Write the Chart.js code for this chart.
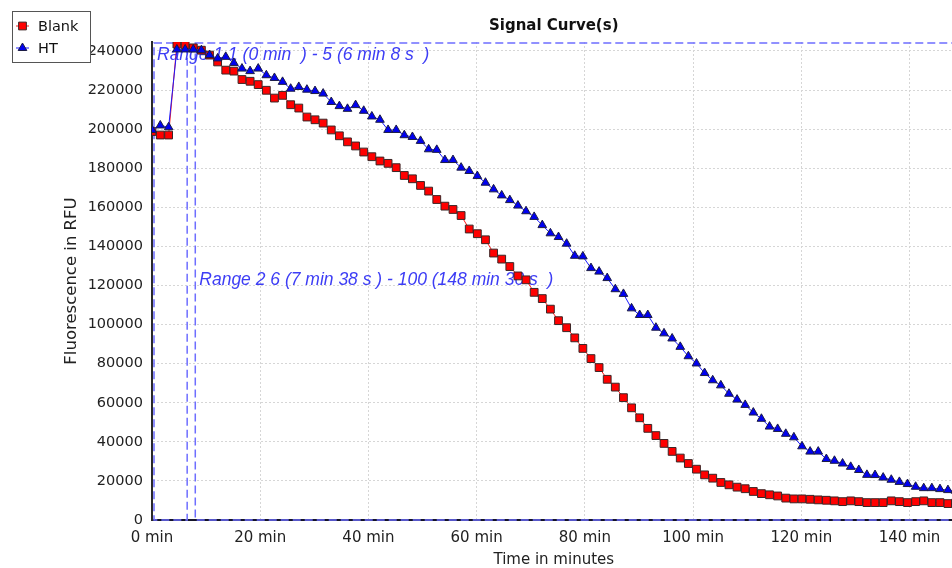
<!DOCTYPE html>
<html>
<head>
<meta charset="utf-8">
<script src="https://cdn.jsdelivr.net/npm/chart.js@4/dist/chart.umd.min.js"></script>
<style>
  html, body { margin: 0; padding: 0; background: #fff; overflow: hidden; }
  #wrap { width: 952px; height: 568px; overflow: hidden; position: relative; }
  canvas { display: block; }
</style>
</head>
<body>
<div id="wrap"><canvas id="chart" width="962" height="568"></canvas></div>
<script>
// time of each read (minutes)
const times = [0, 1.53, 3.07, 4.6, 6.13, 7.63, 9.13, 10.63, 12.13, 13.63,
  15.13, 16.63, 18.13, 19.63, 21.13, 22.63, 24.13, 25.63, 27.13, 28.63,
  30.13, 31.63, 33.13, 34.63, 36.13, 37.63, 39.13, 40.63, 42.13, 43.63,
  45.13, 46.63, 48.13, 49.63, 51.13, 52.63, 54.13, 55.63, 57.13, 58.63,
  60.13, 61.63, 63.13, 64.63, 66.13, 67.63, 69.13, 70.63, 72.13, 73.63,
  75.13, 76.63, 78.13, 79.63, 81.13, 82.63, 84.13, 85.63, 87.13, 88.63,
  90.13, 91.63, 93.13, 94.63, 96.13, 97.63, 99.13, 100.63, 102.13, 103.63,
  105.13, 106.63, 108.13, 109.63, 111.13, 112.63, 114.13, 115.63, 117.13, 118.63,
  120.13, 121.63, 123.13, 124.63, 126.13, 127.63, 129.13, 130.63, 132.13, 133.63,
  135.13, 136.63, 138.13, 139.63, 141.13, 142.63, 144.13, 145.63, 147.1, 148.5];

// Fluorescence in RFU
const blank = [198800, 197000, 197000, 243500, 243000, 241600, 240400, 237900, 234400, 230200,
  229700, 225400, 224500, 222800, 219900, 215900, 217300, 212500, 210800, 206200,
  204800, 203100, 199600, 196600, 193500, 191400, 188300, 185900, 183700, 182500,
  180300, 176300, 174600, 171200, 168300, 164000, 160600, 158900, 155800, 148900,
  146500, 143400, 136600, 133500, 129700, 124900, 122900, 116500, 113300, 107900,
  102000, 98400, 93200, 87800, 82600, 78000, 72000, 68000, 62600, 57400,
  52300, 46900, 43200, 39200, 35100, 31700, 28900, 26000, 23100, 21400,
  19200, 18000, 16800, 16000, 14600, 13500, 12900, 12300, 11200, 10800,
  10800, 10600, 10300, 10100, 9800, 9400, 9800, 9400, 8900, 8900,
  8900, 9800, 9400, 8900, 9400, 9800, 8900, 8900, 8400, 8600];

const ht = [199600, 201900, 201000, 240800, 240800, 240800, 240400, 237900, 236200, 237000,
  233900, 231000, 229700, 231000, 227600, 226200, 224200, 220700, 221600, 220200,
  219500, 218200, 213900, 211800, 210400, 212300, 209400, 206500, 204800, 199600,
  199600, 196900, 196000, 194000, 189700, 189400, 184200, 184200, 180300, 178600,
  176000, 172600, 169200, 166100, 163700, 160900, 158000, 155100, 150900, 146700,
  144800, 141400, 135200, 134900, 128900, 127100, 123800, 118100, 115700, 108300,
  104900, 104900, 98400, 95500, 92900, 88600, 83800, 80100, 75200, 71500,
  68900, 64600, 61600, 58900, 55000, 51800, 47800, 46600, 44100, 42300,
  37700, 35000, 35000, 31200, 30300, 28900, 27200, 25600, 23100, 23000,
  21700, 20600, 19500, 18400, 17000, 16300, 16300, 15800, 15300, 15000];

// axis ticks
const xTicks = [0, 20, 40, 60, 80, 100, 120, 140];
const yTicks = [0, 20000, 40000, 60000, 80000, 100000, 120000, 140000, 160000, 180000, 200000, 220000, 240000];

// analysis ranges
const rangeFrom = [0, 7.63];
const rangeTo = [6.13, 148.5];
const rangeText = ['Range 1 1 (0 min  ) - 5 (6 min 8 s  )', 'Range 2 6 (7 min 38 s ) - 100 (148 min 30 s  )'];

const pts = ys => times.map((t, i) => ({ x: t, y: ys[i] }));

Chart.defaults.font.family = "'DejaVu Sans', sans-serif";
Chart.defaults.color = '#222';

// dashed range boxes + labels, under the markers
const rangePlugin = {
    id: 'ranges',
    beforeDatasetsDraw(chart) {
        const { ctx, chartArea: a, scales: { x } } = chart;
        ctx.save();
        ctx.strokeStyle = '#6e6eff';
        ctx.lineWidth = 1.5;
        ctx.setLineDash([8, 4]);
        rangeFrom.forEach((f, i) => {
            const x1 = x.getPixelForValue(f) + 2;
            const x2 = x.getPixelForValue(rangeTo[i]) + 2;
            ctx.strokeRect(x1, a.top + 1, x2 - x1, a.bottom - a.top - 1);
        });
        ctx.setLineDash([]);
        ctx.fillStyle = '#3d3df5';
        ctx.font = "italic 17.5px 'Liberation Sans', Arial, sans-serif";
        ctx.textBaseline = 'alphabetic';
        ctx.fillText(rangeText[0], x.getPixelForValue(rangeFrom[0]) + 5, a.top + 18);
        ctx.fillText(rangeText[1], x.getPixelForValue(rangeFrom[1]) + 6, a.top + (a.bottom - a.top) / 2 + 4);
        ctx.restore();
    }
};

// boxed legend in the top left corner
const legendPlugin = {
    id: 'boxLegend',
    afterDraw(chart) {
        const ctx = chart.ctx;
        ctx.save();
        ctx.fillStyle = '#fff';
        ctx.fillRect(12, 11, 78, 51);
        ctx.strokeStyle = '#555';
        ctx.lineWidth = 1;
        ctx.strokeRect(12.5, 11.5, 78, 51);
        chart.data.datasets.forEach((ds, i) => {
            const y = 26 + i * 22;
            ctx.strokeStyle = ds.borderColor;
            ctx.lineWidth = 1;
            ctx.beginPath();
            ctx.moveTo(16, y);
            ctx.lineTo(29, y);
            ctx.stroke();
            ctx.fillStyle = ds.pointBackgroundColor;
            ctx.strokeStyle = ds.pointBorderColor;
            Chart.helpers.drawPoint(ctx, { pointStyle: ds.pointStyle, radius: ds.pointRadius, borderWidth: 1, rotation: 0 }, 22.5, y);
            ctx.fillStyle = '#111';
            ctx.font = "14.5px 'DejaVu Sans', sans-serif";
            ctx.textBaseline = 'middle';
            ctx.fillText(ds.label, 38, y + 1);
        });
        ctx.restore();
    }
};

new Chart(document.getElementById('chart'), {
    type: 'line',
    data: {
        datasets: [
            {
                label: 'Blank', data: pts(blank), order: 1,
                borderColor: '#ff1a1a', borderWidth: 1, tension: 0,
                pointStyle: 'rect', pointRadius: 5.5,
                pointBackgroundColor: '#ff0000', pointBorderColor: '#3b2626', pointBorderWidth: 1
            },
            {
                label: 'HT', data: pts(ht), order: 0,
                borderColor: '#1a1aff', borderWidth: 1, tension: 0,
                pointStyle: 'triangle', pointRadius: 5,
                pointBackgroundColor: '#0000f0', pointBorderColor: '#1c1c44', pointBorderWidth: 1
            }
        ]
    },
    options: {
        responsive: false,
        animation: false,
        events: [],
        layout: { padding: { left: 0, right: 3, top: 0, bottom: 0 } },
        plugins: {
            legend: { display: false },
            tooltip: { enabled: false },
            title: {
                display: true, text: 'Signal Curve(s)', fullSize: false, color: '#111',
                font: { size: 15, weight: 'bold' }, padding: { top: 17, bottom: 7 }
            }
        },
        scales: {
            x: {
                type: 'linear', min: 0, max: 148.5,
                afterBuildTicks(s) { s.ticks = xTicks.map(v => ({ value: v })); },
                ticks: { maxRotation: 0, autoSkip: false, padding: 9, font: { size: 15 }, callback: v => v + ' min' },
                grid: { color: '#d6d6d6', drawTicks: false },
                border: { color: '#15152a', width: 2, dash: [2, 2] },
                title: { display: true, text: 'Time in minutes', font: { size: 15, lineHeight: 1 }, padding: 0 },
                afterFit(s) { s.height = 48; }
            },
            y: {
                min: 0, max: 244600,
                afterBuildTicks(s) { s.ticks = yTicks.map(v => ({ value: v })); },
                ticks: { autoSkip: false, padding: 9, font: { size: 14.5 }, callback: v => String(v) },
                grid: { color: '#d6d6d6', drawTicks: false },
                border: { color: '#2a2a2a', width: 2, dash: [2, 2] },
                title: { display: true, text: 'Fluorescence in RFU', font: { size: 16.5 }, padding: { top: 62, bottom: 0 } },
                afterFit(s) { s.width = 152; }
            }
        }
    },
    plugins: [rangePlugin, legendPlugin]
});
</script>
</body>
</html>
